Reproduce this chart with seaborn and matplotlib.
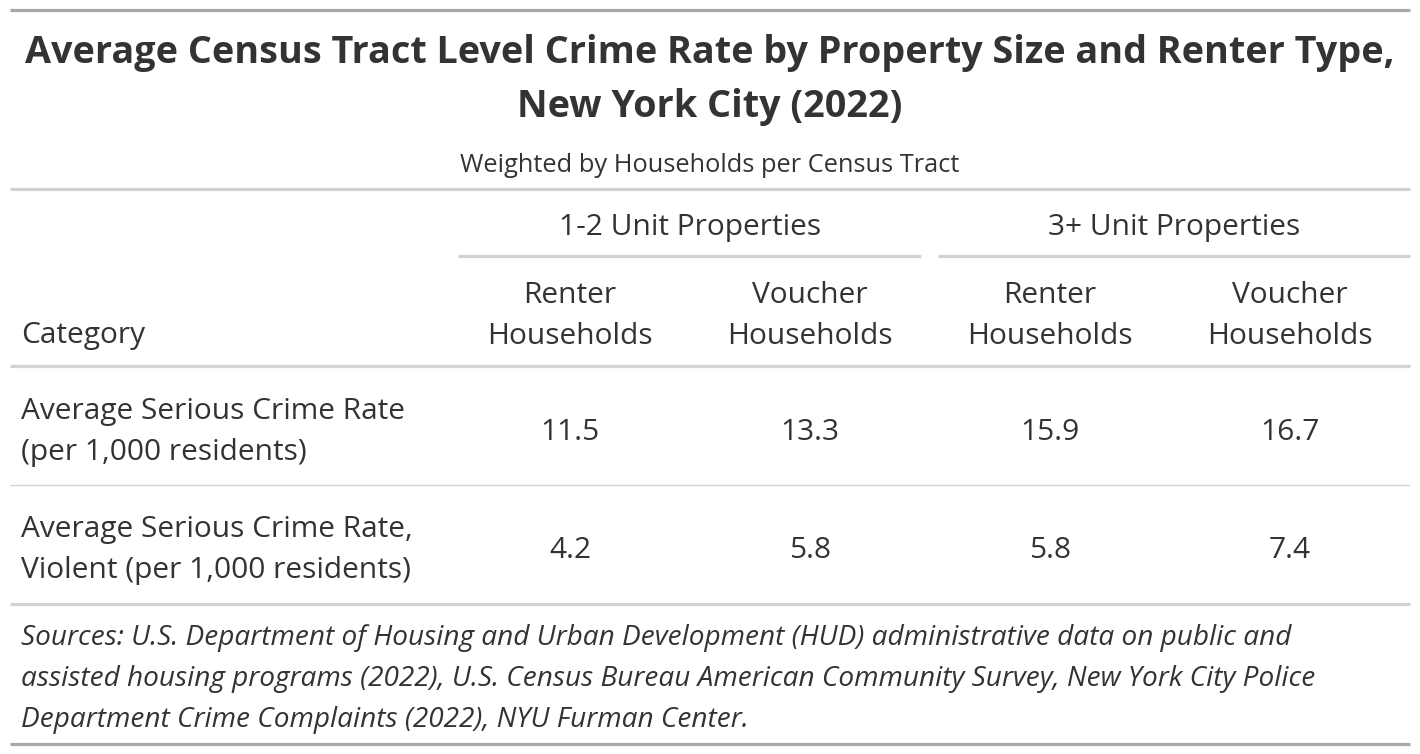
import seaborn as sns
import matplotlib.pyplot as plt

sns.set_theme(style='white')
plt.rcParams['font.family'] = ['Open Sans', 'DejaVu Sans']

title_lines = ['Average Census Tract Level Crime Rate by Property Size and Renter Type,',
               'New York City (2022)']
subtitle = 'Weighted by Households per Census Tract'
spanners = ['1-2 Unit Properties', '3+ Unit Properties']
col_labels = ['Renter\nHouseholds', 'Voucher\nHouseholds', 'Renter\nHouseholds', 'Voucher\nHouseholds']
stub_header = 'Category'
row_labels = ['Average Serious Crime Rate\n(per 1,000 residents)',
              'Average Serious Crime Rate,\nViolent (per 1,000 residents)']
values = [[11.5, 13.3, 15.9, 16.7],
          [4.2, 5.8, 5.8, 7.4]]
source_note = ('Sources: U.S. Department of Housing and Urban Development (HUD) administrative data on public and\n'
               'assisted housing programs (2022), U.S. Census Bureau American Community Survey, New York City Police\n'
               'Department Crime Complaints (2022), NYU Furman Center.')

txt = '#333333'
dark = '#A8A8A8'
light = '#D3D3D3'

fig = plt.figure(figsize=(14.2, 7.54), dpi=100)
ax = fig.add_axes([0, 0, 1, 1])
ax.set_xlim(0, 1420)
ax.set_ylim(754, 0)
ax.axis('off')

L, R = 10, 1410
body = 21.5

# rules
ax.plot([L, R], [10, 10], color=dark, lw=2.3, solid_capstyle='butt')
ax.plot([L, R], [189, 189], color=light, lw=2.3, solid_capstyle='butt')
ax.plot([458, 921], [256, 256], color=light, lw=2.3, solid_capstyle='butt')
ax.plot([938, R], [256, 256], color=light, lw=2.3, solid_capstyle='butt')
ax.plot([L, R], [366, 366], color=light, lw=2.3, solid_capstyle='butt')
ax.plot([L, R], [485, 485], color=light, lw=1, solid_capstyle='butt')
ax.plot([L, R], [604, 604], color=light, lw=2.3, solid_capstyle='butt')
ax.plot([L, R], [744, 744], color=dark, lw=2.3, solid_capstyle='butt')

# title block
ax.text(710, 53, title_lines[0], ha='center', va='center', fontsize=27.2,
        fontweight='bold', color=txt)
ax.text(710, 106.5, title_lines[1], ha='center', va='center', fontsize=27.2,
        fontweight='bold', color=txt)
ax.text(710, 165, subtitle, ha='center', va='center', fontsize=18.3, color=txt)

# spanners
span_x = [690, 1174]
for sx, lab in zip(span_x, spanners):
    ax.text(sx, 228, lab, ha='center', va='center', fontsize=body, color=txt)

col_x = [570, 810, 1050, 1290]
for cx, lab in zip(col_x, col_labels):
    ax.text(cx, 316, lab, ha='center', va='center', fontsize=body, color=txt,
            linespacing=1.55)
ax.text(21, 336, stub_header, ha='left', va='center', fontsize=body, color=txt)

row_y = [432, 550]
for ry, lab, vals in zip(row_y, row_labels, values):
    ax.text(21, ry, lab, ha='left', va='center', fontsize=body, color=txt,
            linespacing=1.55)
    for cx, v in zip(col_x, vals):
        ax.text(cx, ry, f'{v:.1f}', ha='center', va='center', fontsize=body, color=txt)

ax.text(21, 679, source_note, ha='left', va='center', fontsize=20.2, color=txt,
        style='italic', linespacing=1.6)

fig.savefig('out.png', dpi=100)
